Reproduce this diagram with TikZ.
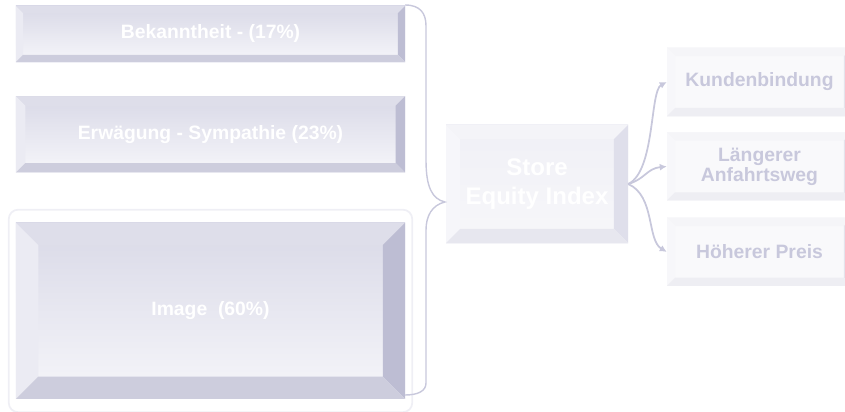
\documentclass[tikz,border=0pt]{standalone}
\usepackage{fontspec}
\setmainfont{Liberation Sans}
\usetikzlibrary{arrows.meta, positioning, fit}

\definecolor{lilac}{HTML}{C8C8DC}
\definecolor{framegray}{HTML}{EFEFF5}
\tikzset{
  bevel depth/.store in=\bvdepth, bevel depth=6pt,
  bevel colors/.code n args={6}{\definecolor{bvftop}{HTML}{#1}\definecolor{bvfbot}{HTML}{#2}%
    \definecolor{bvtop}{HTML}{#3}\definecolor{bvleft}{HTML}{#4}\definecolor{bvright}{HTML}{#5}\definecolor{bvbot}{HTML}{#6}},
  bevel/.style = {rectangle, inner sep=0pt, align=center, path picture={
    \coordinate (bl) at (path picture bounding box.south west);
    \coordinate (tr) at (path picture bounding box.north east);
    \coordinate (tl) at (path picture bounding box.north west);
    \coordinate (br) at (path picture bounding box.south east);
    \coordinate (ibl) at ([shift={(\bvdepth,\bvdepth)}]bl);
    \coordinate (itr) at ([shift={(-\bvdepth,-\bvdepth)}]tr);
    \coordinate (itl) at ([shift={(\bvdepth,-\bvdepth)}]tl);
    \coordinate (ibr) at ([shift={(-\bvdepth,\bvdepth)}]br);
    \shade[top color=bvftop, bottom color=bvfbot] (bl) rectangle (tr);
    \fill[bvtop] (tl) -- (tr) -- (itr) -- (itl) -- cycle;
    \fill[bvleft] (tl) -- (itl) -- (ibl) -- (bl) -- cycle;
    \fill[bvright] (tr) -- (br) -- (ibr) -- (itr) -- cycle;
    \fill[bvbot] (bl) -- (ibl) -- (ibr) -- (br) -- cycle;
  }},
  mainbox/.style = {bevel, minimum width=11.67cm, text=white,
    font=\fontsize{16.5}{18}\selectfont\bfseries,
    bevel colors={D9D9E7}{F6F6FA}{DEDEEA}{EBEBF3}{BDBDD3}{CDCDDD}},
  storebox/.style = {bevel, bevel depth=12pt, minimum width=5.46cm, minimum height=3.54cm,
    text=white, font=\fontsize{20.5}{24.5}\selectfont\bfseries,
    bevel colors={F0F0F6}{F7F7FA}{F4F4F8}{F6F6FA}{DFDFEB}{E7E7EF}},
  sidebox/.style = {bevel, bevel depth=7pt, minimum width=5.55cm, minimum height=2.04cm,
    text=lilac, font=\fontsize{16.5}{17}\selectfont\bfseries,
    bevel colors={F9F9FB}{F9F9FB}{F5F5F8}{F7F7FA}{E4E4EC}{EEEEF3}},
  frame/.style = {draw=framegray, line width=1.5pt, rounded corners=8pt,
    inner xsep=0.21cm, inner ysep=0.39cm},
  brace/.style = {draw=lilac, line width=1.2pt},
  arr/.style = {draw=lilac, line width=1.5pt, -{Latex[length=6pt, width=6pt]}}
}

\begin{document}
\begin{tikzpicture}[x=0.03cm, y=0.03cm]
\clip (0,0) rectangle (845,411);

% Left column
\node[mainbox, bevel depth=6pt, minimum height=1.68cm] (bek) at (210.5,377) {Bekanntheit - (17\%)};
\node[mainbox, bevel depth=8pt, minimum height=2.28cm, below=1.02cm of bek] (erw) {Erwägung - Sympathie (23\%)};
\node[mainbox, bevel depth=19pt, minimum height=5.28cm, below=1.5cm of erw] (img) {Image~~(60\%)};
\node[frame, fit=(img)] (imgframe) {};

% Centre
\node[storebox] (sei) at (537,227) {Store\\Equity Index};

% Right column
\node[sidebox] (kun) at (759.5,329) {Kundenbindung};
\node[sidebox, below=0.48cm of kun] (anf) {Längerer\\Anfahrtsweg};
\node[sidebox, below=0.51cm of anf] (prs) {Höherer Preis};

% ----- BRACE -----
\coordinate (tip) at (445,209);
\draw[brace] (405,406) .. controls (420,406) and (426,398) .. (426,385) -- (426,251)
  .. controls (426,224) and (432,212) .. (tip)
  .. controls (432,206) and (426,195) .. (426,181) -- (426,28)
  .. controls (426,20) and (418,16) .. (405,16);

% ----- ARROWS -----
\draw[arr] (sei.east) .. controls +(27,13) and +(-17,-9) .. (kun.west);
\draw[arr] (sei.east) .. controls +(17,5) and +(-20,-2) .. (anf.west);
\draw[arr] (sei.east) .. controls +(27,-12) and +(-20,12) .. (prs.west);

\end{tikzpicture}
\end{document}
